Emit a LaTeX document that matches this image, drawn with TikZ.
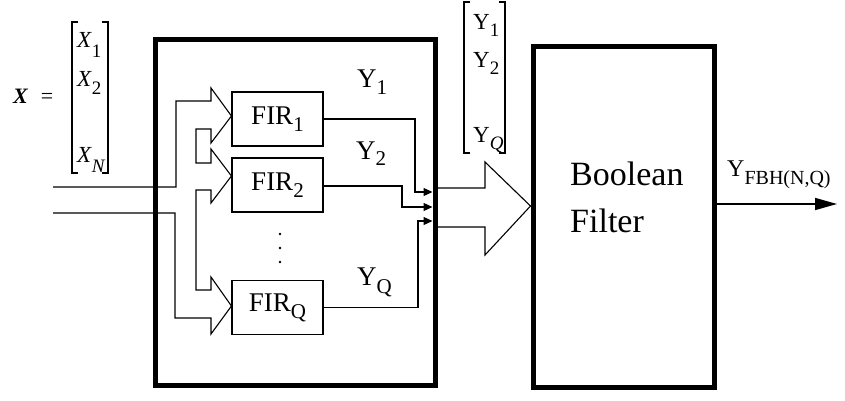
\documentclass[tikz,border=0pt]{standalone}
\usepackage{fontspec}
\setmainfont{Liberation Serif}
\usetikzlibrary{arrows.meta}
\newcommand{\fsz}[1]{\fontsize{#1}{#1}\selectfont}
\newcommand{\withsub}[4]{#1\raisebox{-#4pt}{\fsz{#3}#2}}
\begin{document}
\begin{tikzpicture}[x=1pt,y=-1pt,
  bigbox/.style={draw,line width=5pt,inner sep=0pt},
  firbox/.style={draw,line width=1.1pt,minimum width=91pt,minimum height=54pt,inner sep=0pt,font=\fsz{27}},
  bus/.style={draw,line width=1.1pt,line join=miter},
  sig/.style={line width=1.1pt,-{Triangle[length=9pt,width=8pt]}},
  brk/.style={line width=1.3pt},
  lbl/.style={anchor=base west,inner sep=0pt}]
\useasboundingbox (0,0) rectangle (845,401);
% big boxes
\node[bigbox,minimum width=280pt,minimum height=345pt] (fb) at (295,212.5) {};
\node[bigbox,minimum width=181pt,minimum height=340pt] (bf) at (623.5,217) {};
% FIR boxes
\node[firbox] (fir1) at (277.5,119) {FIR\raisebox{-7pt}{\fsz{21}1}};
\node[firbox] (fir2) at (277.5,185) {FIR\raisebox{-7pt}{\fsz{21}2}};
\node[firbox] (firq) at (277.5,307.5) {FIR\raisebox{-7pt}{\fsz{21}Q}};
% dots
\foreach \yy in {234,248,262} \fill (280,\yy) circle[radius=1.4pt];
% input bus outline
\coordinate (inA) at (53,187);
\coordinate (inB) at (53,213);
\draw[bus] (inA) -- (176,187) -- (176,101) -- (211,101) -- (211,88) -- (fir1.west |- 0,116)
  -- (211,143) -- (211,129) -- (196,129) -- (196,163) -- (211,163) -- (211,149) -- (fir2.west |- 0,176)
  -- (211,203) -- (211,190) -- (196,190) -- (196,290) -- (211,290) -- (211,277) -- (fir2.west |- 0,306)
  -- (211,334) -- (211,318) -- (175,318) -- (175,213) -- (inB);
% outputs of FIR
\coordinate (a1) at (432.5,192);
\coordinate (a2) at (432.5,207);
\coordinate (a3) at (432.5,221);
\draw[sig] (fir1.east) -- (415,119) -- (415,192) -- (a1);
\draw[sig] (fir2.east |- 0,186) -- (402,186) -- (402,207) -- (a2);
\draw[sig] (firq.east) -- (418,307.5) -- (418,221) -- (a3);
% output bus
\coordinate (oA) at (437.5,188);
\coordinate (oB) at (437.5,227);
\draw[bus] (oA) -- (485,188) -- (485,162) -- (bf.west |- 0,206) -- (485,255) -- (485,227) -- (oB);
% output arrow
\coordinate (yout) at (837,204);
\draw[line width=1.5pt,-{Triangle[length=22pt,width=12pt]}] (bf.east |- yout) -- (yout);
% labels
\node[lbl,font=\fsz{27}] (ly1) at (357,88) {\withsub{Y}{1}{21}{7}};
\node[lbl,font=\fsz{27}] (ly2) at (356,159) {\withsub{Y}{2}{21}{6}};
\node[lbl,font=\fsz{27}] (lyq) at (357,285) {\withsub{Y}{Q}{21}{8}};
\node[lbl,font=\fsz{34}] (lbo) at (570,185) {Boolean};
\node[lbl,font=\fsz{34}] (lfi) at (570,232) {Filter};
\node[lbl,font=\fsz{24}] (lyf) at (727,176) {\withsub{Y}{FBH(N,Q)}{20}{8}};
\node[lbl,font=\fsz{22}] (lx) at (13,103) {{\bfseries\itshape X}\hspace{13pt}=};
% X vector
\draw[brk] (78,22) -- (72,22) -- (72,173) -- (78,173);
\draw[brk] (102,22) -- (108,22) -- (108,173) -- (102,173);
\node[lbl,font=\fsz{23}] (x1) at (77,48) {\withsub{\textit{X}}{1}{19}{10}};
\node[lbl,font=\fsz{23}] (x2) at (77,87) {\withsub{\textit{X}}{2}{19}{8}};
\node[lbl,font=\fsz{23}] (xn) at (77,162) {\withsub{\textit{X}}{\textit{N}}{19}{10}};
% Y vector
\draw[brk] (470,2) -- (464,2) -- (464,153) -- (470,153);
\draw[brk] (499,2) -- (505,2) -- (505,153) -- (499,153);
\node[lbl,font=\fsz{23}] (yv1) at (473,30) {\withsub{Y}{1}{19}{7}};
\node[lbl,font=\fsz{23}] (yv2) at (473,68) {\withsub{Y}{2}{19}{7}};
\node[lbl,font=\fsz{23}] (yvq) at (473,142) {\withsub{Y}{\textit{Q}}{19}{8}};
\end{tikzpicture}
\end{document}
